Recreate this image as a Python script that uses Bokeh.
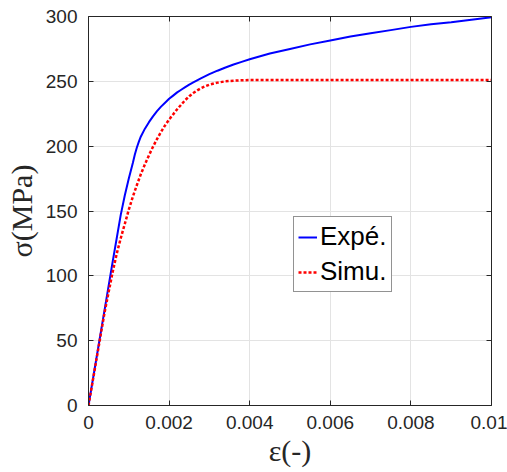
from bokeh.plotting import figure
from bokeh.models import Range1d, LinearAxis, FixedTicker, Legend, LegendItem
from bokeh.embed import file_html
from bokeh.resources import INLINE

# ---- data ----
eps_exp = [0, 0.0002, 0.0004, 0.0006, 0.0007, 0.0008, 0.0009, 0.001, 0.0011, 0.00115,
           0.0012, 0.00125, 0.0013, 0.0014, 0.0015, 0.0016, 0.0017, 0.0018, 0.0019, 0.002,
           0.0021, 0.0022, 0.0023, 0.0024, 0.0025, 0.0026, 0.0028, 0.003, 0.0032, 0.0034,
           0.0036, 0.0038, 0.004, 0.0045, 0.005, 0.0055, 0.006, 0.0065, 0.007, 0.0075,
           0.008, 0.0085, 0.009, 0.0095, 0.01]
sig_exp = [0, 37, 74, 111, 129, 147, 162, 175, 187, 193.5,
           199, 203.5, 207.5, 213.5, 218.5, 223, 227, 230.5, 233.5, 236.5,
           239, 241.5, 243.5, 245.5, 247.5, 249.2, 252.5, 255.5, 258.2, 260.7,
           263, 265, 267, 271.5, 275, 278.5, 281.5, 284.5, 287, 289.5,
           292, 294, 295.5, 297.5, 299.5]

eps_sim = [0, 0.0002, 0.0004, 0.0006, 0.0007, 0.0008, 0.0009, 0.001, 0.0011, 0.0012,
           0.0013, 0.0014, 0.0015, 0.0016, 0.0017, 0.0018, 0.0019, 0.002, 0.0021, 0.0022,
           0.0023, 0.0024, 0.0025, 0.0026, 0.0027, 0.0028, 0.0029, 0.003, 0.0032, 0.0034,
           0.0036, 0.0038, 0.004, 0.005, 0.006, 0.007, 0.008, 0.009, 0.01]
sig_sim = [0, 36, 72, 103, 117, 129, 140, 151, 161, 170,
           178.5, 186, 193, 199.5, 205.5, 211, 216, 220.5, 224.5, 228.5,
           232, 235.5, 238.5, 241, 243, 244.8, 246.2, 247.4, 249, 250,
           250.5, 250.8, 251, 251, 251, 251, 251, 251, 251]

x_ticks = [0, 0.002, 0.004, 0.006, 0.008, 0.01]
x_tick_labels = ["0", "0.002", "0.004", "0.006", "0.008", "0.01"]
y_ticks = [0, 50, 100, 150, 200, 250, 300]
y_tick_labels = ["0", "50", "100", "150", "200", "250", "300"]

series_names = ["Expé.", "Simu."]
x_label = "ε(-)"
y_label = "σ(MPa)"

AX = "#262626"
TICK_FONT = "Liberation Sans"

p = figure(width=507, height=472, output_backend="svg", toolbar_location=None,
           x_range=Range1d(0, 0.01), y_range=Range1d(0, 300),
           min_border_left=88, min_border_right=16, min_border_top=16, min_border_bottom=67,
           x_axis_label=x_label, y_axis_label=y_label)
p.outline_line_color = None
p.background_fill_color = "white"
p.border_fill_color = "white"

def style_axis(ax, ticks, labels, show_labels):
    ax.ticker = FixedTicker(ticks=ticks)
    ax.major_label_overrides = {t: l for t, l in zip(ticks, labels)}
    ax.axis_line_color = AX
    ax.axis_line_width = 1
    ax.major_tick_line_color = AX
    ax.major_tick_in = 5
    ax.major_tick_out = 0
    ax.minor_tick_line_color = None
    ax.major_label_text_font = TICK_FONT
    ax.major_label_text_color = AX
    if show_labels:
        ax.major_label_text_font_size = "19px"
        ax.major_label_standoff = 10
    else:
        ax.major_label_text_font_size = "0px"
        ax.major_label_standoff = 0

style_axis(p.xaxis[0], x_ticks, x_tick_labels, True)
style_axis(p.yaxis[0], y_ticks, y_tick_labels, True)
p.yaxis[0].major_label_standoff = 11

for ax in (p.xaxis[0], p.yaxis[0]):
    ax.axis_label_text_font = "Liberation Serif"
    ax.axis_label_text_font_style = "normal"
    ax.axis_label_text_font_size = "30px"
    ax.axis_label_text_color = AX
p.xaxis[0].axis_label_standoff = 2
p.yaxis[0].axis_label_standoff = 5

top = LinearAxis()
style_axis(top, x_ticks, ["" for _ in x_ticks], False)
p.add_layout(top, "above")
right = LinearAxis()
style_axis(right, y_ticks, ["" for _ in y_ticks], False)
p.add_layout(right, "right")

p.xgrid.ticker = FixedTicker(ticks=x_ticks)
p.ygrid.ticker = FixedTicker(ticks=y_ticks)
for g in (p.xgrid[0], p.ygrid[0]):
    g.grid_line_color = "#e3e3e3"
    g.grid_line_width = 1

r1 = p.line(eps_exp, sig_exp, line_color="#0000ff", line_width=2)
r2 = p.line(eps_sim, sig_sim, line_color="#ff0000", line_width=2.5, line_dash="3 2")

legend = Legend(items=[LegendItem(label=series_names[0], renderers=[r1]),
                       LegendItem(label=series_names[1], renderers=[r2])],
                location=(205, 113))
legend.label_text_font = "Liberation Sans"
legend.label_text_font_size = "26px"
legend.label_text_color = "black"
legend.glyph_width = 19
legend.glyph_height = 28
legend.label_height = 28
legend.label_standoff = 3
legend.padding = 4
legend.spacing = 4
legend.margin = 0
legend.border_line_color = AX
legend.border_line_width = 1
legend.background_fill_color = "white"
legend.background_fill_alpha = 1
p.add_layout(legend, "center")

open("out.html", "w").write(file_html(p, INLINE))
